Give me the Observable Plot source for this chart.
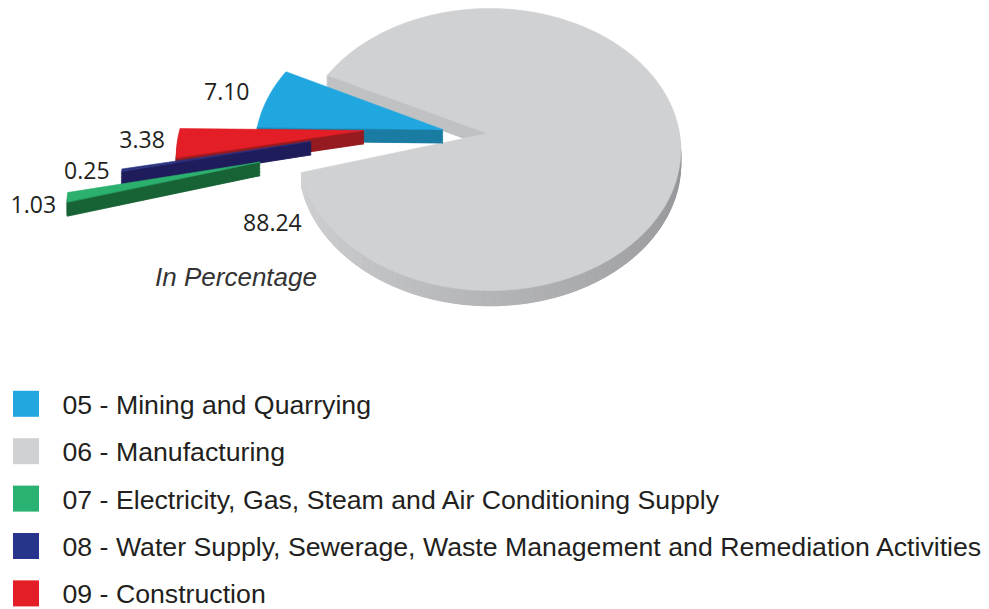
<!DOCTYPE html>
<html>
<head>
<meta charset="utf-8">
<script src="https://cdn.jsdelivr.net/npm/d3@7"></script>
<script src="https://cdn.jsdelivr.net/npm/@observablehq/plot@0.6"></script>
<style>
  html, body { margin: 0; padding: 0; background: #ffffff; }
  #chart svg { display: block; }
</style>
</head>
<body>
<div id="chart"></div>
<script>
// ---------------- DATA ----------------
const codes = ["05", "06", "07", "08", "09"];
const sectors = [
  "Mining and Quarrying",
  "Manufacturing",
  "Electricity, Gas, Steam and Air Conditioning Supply",
  "Water Supply, Sewerage, Waste Management and Remediation Activities",
  "Construction"
];
const shares = [7.10, 88.24, 1.03, 0.25, 3.38];
const shareLabels = ["7.10", "88.24", "1.03", "0.25", "3.38"];
const unitNote = "In Percentage";

// ---------------- STYLE ----------------
const W = 989, H = 609;
const topColors = ["#21a7df", "#d0d1d3", "#2bb06e", "#2a3282", "#e41e26"];
const sideColors = ["#1a7ba3", null, "#186335", "#1f1c5c", "#961b20"];
const legendColors = ["#22a7df", "#d0d1d3", "#2ab273", "#27348b", "#e31e26"];
const manufSideLight = "#d4d5d7", manufSideDark = "#96979a";
// explosion of each slice in disk units (u right, v far)
const explode = [[-0.238, 0.029], [0, 0], [-1.19, -0.2035], [-0.936, -0.057], [-0.66, 0.022]];
const drawOrder = [1, 0, 4, 3, 2];
const pieStartDeg = -89.16;          // clockwise from 12 o'clock
// perspective view of the disk
const view = {x0: 487, y0: 133, A: 189.7, B: 139.2, p: 0.1135, q: -0.012, D: 13.5};
// label offsets from slice anchor (px)
const labelOffsets = [[-41, -6], [-29, 51], [-34, 8], [-35, 2], [-35, -2]];
const noteOffset = [-251.5, 144];
const legend = {top: 404.8, step: 47.4, swatchX: 13, swatch: 26, textX: 62};

// ---------------- GEOMETRY ----------------
const rad = Math.PI / 180;
function proj(u, v, z) {
  const w = 1 + view.p * v + view.q * u;
  return [view.x0 + view.A * u / w, view.y0 - view.B * v / w + view.D * z / w];
}
function signedArea(pts) {
  let s = 0;
  for (let i = 0; i < pts.length; i++) {
    const a = pts[i], b = pts[(i + 1) % pts.length];
    s += a[0] * b[1] - b[0] * a[1];
  }
  return s / 2;
}

const arcs = d3.pie().sort(null).value(d => d)
  .startAngle(pieStartDeg * rad).endAngle((pieStartDeg + 360) * rad)(shares);

const polys = [];
const anchors = [];
let pid = 0;
function addPoly(pts, color) {
  const id = pid++;
  for (const [x, y] of pts) polys.push({id, x, y, color});
}

arcs.forEach((arc, i) => {
  const th0 = Math.PI / 2 - arc.endAngle, th1 = Math.PI / 2 - arc.startAngle;
  const [eu, ev] = explode[i];
  const mid = (th0 + th1) / 2;
  if (i === 1) anchors[i] = proj(eu + Math.cos(th0), ev + Math.sin(th0), 0);
  else anchors[i] = proj(eu + Math.cos(mid), ev + Math.sin(mid), 0);
});

for (const i of drawOrder) {
  const arc = arcs[i];
  const th0 = Math.PI / 2 - arc.endAngle, th1 = Math.PI / 2 - arc.startAngle;
  const [eu, ev] = explode[i];
  const n = Math.max(6, Math.ceil((th1 - th0) / (0.8 * rad)));
  const ring = [[eu, ev]];
  for (let k = 0; k <= n; k++) {
    const t = th0 + (th1 - th0) * k / n;
    ring.push([eu + Math.cos(t), ev + Math.sin(t)]);
  }
  // backing body (stacked copies) so that side faces have no gaps
  const backColor = sideColors[i] == null ? d3.interpolateRgb(manufSideLight, manufSideDark)(0.6) : sideColors[i];
  for (const z of [1, 0.75, 0.5, 0.25]) addPoly(ring.map(([u, v]) => proj(u, v, z)), backColor);
  // visible side faces
  for (let j = 0; j < ring.length; j++) {
    const a = ring[j], b = ring[(j + 1) % ring.length];
    const quad = [proj(a[0], a[1], 0), proj(b[0], b[1], 0), proj(b[0], b[1], 1), proj(a[0], a[1], 1)];
    if (signedArea(quad) <= 0) continue;
    let color = sideColors[i];
    if (color == null) {
      const du = b[0] - a[0], dv = b[1] - a[1];
      let phi = Math.atan2(-du, dv) / rad; phi = (phi + 360) % 360;
      if (phi < 90) phi += 360;
      const t = Math.max(0, Math.min(1, (phi - 195) / 150));
      color = d3.interpolateRgb(manufSideLight, manufSideDark)(t);
    }
    addPoly(quad, color);
  }
  // top face
  addPoly(ring.map(([u, v]) => proj(u, v, 0)), topColors[i]);
}

const valueText = shareLabels.map((t, i) => ({
  text: t,
  x: anchors[i][0] + labelOffsets[i][0],
  y: anchors[i][1] + labelOffsets[i][1]
}));
const noteText = [{text: unitNote, x: view.x0 + noteOffset[0], y: view.y0 + noteOffset[1]}];
const legendRows = codes.map((c, i) => ({
  label: `${c} - ${sectors[i]}`,
  color: legendColors[i],
  cy: legend.top + i * legend.step
}));

const chart = Plot.plot({
  width: W,
  height: H,
  margin: 0,
  style: {background: "#ffffff"},
  x: {domain: [0, W], range: [0, W], axis: null},
  y: {domain: [0, H], range: [0, H], axis: null},
  color: {type: "identity"},
  marks: [
    Plot.line(polys, {x: "x", y: "y", z: "id", fill: "color", stroke: "color", strokeWidth: 0.6, curve: "linear-closed"}),
    Plot.text(valueText, {x: "x", y: "y", text: "text", fontSize: 23, fontFamily: "'Open Sans', 'Noto Sans', sans-serif", fill: "#231f20"}),
    Plot.text(noteText, {x: "x", y: "y", text: "text", fontSize: 26, fontStyle: "italic", fontFamily: "'Liberation Sans', Arial, sans-serif", fill: "#333333"}),
    Plot.rect(legendRows, {
      x1: () => legend.swatchX, x2: () => legend.swatchX + legend.swatch,
      y1: d => d.cy - 1 - legend.swatch / 2, y2: d => d.cy - 1 + legend.swatch / 2,
      fill: "color"
    }),
    Plot.text(legendRows, {x: () => legend.textX, y: "cy", text: "label", textAnchor: "start", fontSize: 26.7, fontFamily: "'Liberation Sans', Arial, sans-serif", fill: "#231f20"})
  ]
});
document.getElementById("chart").appendChild(chart);
</script>
</body>
</html>
